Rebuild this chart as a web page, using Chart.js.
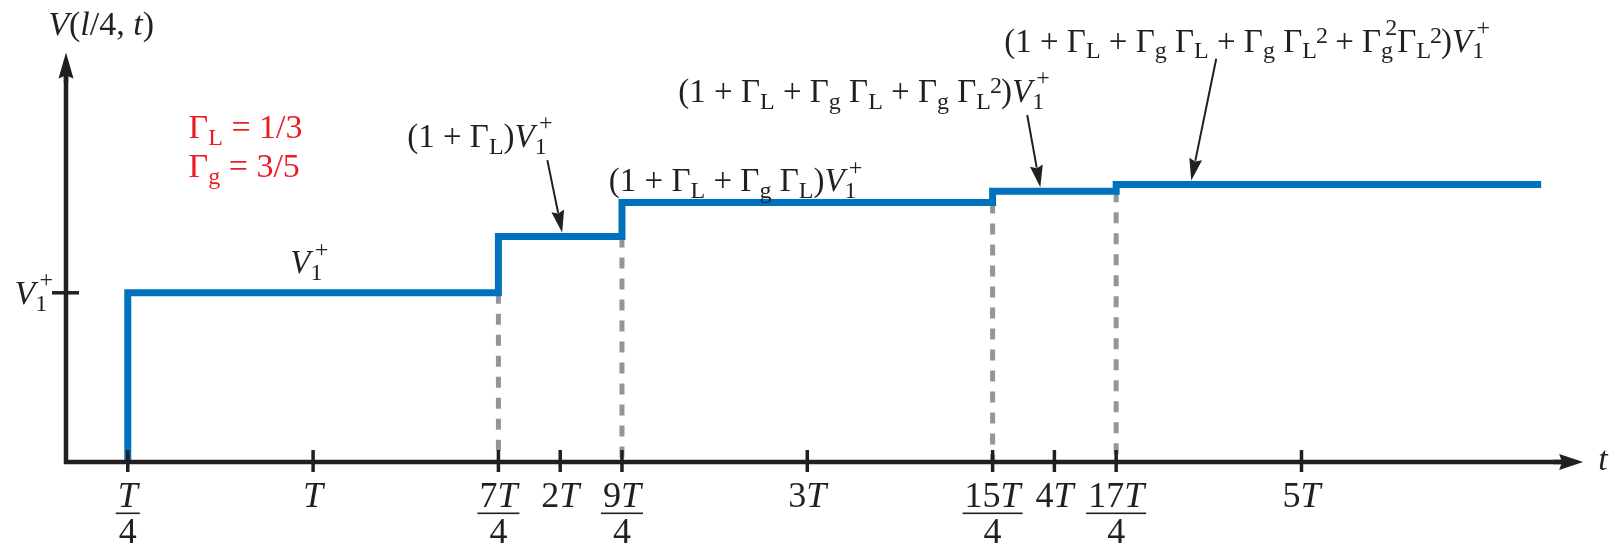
<!DOCTYPE html>
<html>
<head>
<meta charset="utf-8">
<title>V(l/4, t)</title>
<script src="https://cdn.jsdelivr.net/npm/chart.js@4.4.0/dist/chart.umd.min.js"></script>
<style>
  html, body { margin: 0; padding: 0; background: #fff; }
  #wrap { width: 1623px; height: 548px; }
</style>
</head>
<body>
<div id="wrap"><canvas id="stepChart" width="1623" height="548"></canvas></div>
<script>
// times in units of T, voltages in units of V1+
const stepTimes = [0.25, 1.75, 2.25, 3.75, 4.25];
const stepLevels = [1, 1.333, 1.533, 1.6, 1.64];
const endTime = 5.97;

const tickValues = [0.25, 1, 1.75, 2, 2.25, 3, 3.75, 4, 4.25, 5];
const tickLabels = [['T', '4'], 'T', ['7T', '4'], '2T', ['9T', '4'], '3T', ['15T', '4'], '4T', ['17T', '4'], '5T'];

const levelLabels = [
  'V_1~+',
  '(1 + Γ_L)V_1~+',
  '(1 + Γ_L + Γ_g Γ_L)V_1~+',
  '(1 + Γ_L + Γ_g Γ_L + Γ_g Γ_L^2)V_1~+',
  '(1 + Γ_L + Γ_g Γ_L + Γ_g Γ_L^2 + Γ_g~2Γ_L^2)V_1~+'
];
// left edge / baseline of each level label, in data units
const labelAnchors = [[0.908, 1.116], [1.381, 1.862], [2.197, 1.60], [2.478, 2.128], [3.797, 2.424]];
// arrows: label end -> point on the level
const arrowFrom = [[1.948, 1.784], [3.89, 2.051], [4.655, 2.383]];
const arrowTo = [[2.008, 1], [3.943, 3], [4.554, 4]]; // [t, level index]

const paramLines = ['Γ_L = 1/3', 'Γ_g = 3/5'];

const AXIS = '#231f20';
const SERIF = '"Liberation Serif", "Times New Roman", serif';
const ITALIC_CHARS = 'VTtl';

// build the staircase from the step times and levels
const stairs = [{ x: stepTimes[0], y: 0 }];
stepTimes.forEach((t, i) => {
  const next = i + 1 < stepTimes.length ? stepTimes[i + 1] : endTime;
  stairs.push({ x: t, y: stepLevels[i] }, { x: next, y: stepLevels[i] });
});

const datasets = [{
  data: stairs,
  showLine: true,
  borderColor: '#0071bc',
  borderWidth: 7,
  borderJoinStyle: 'miter',
  borderCapStyle: 'butt',
  pointRadius: 0
}];
for (let i = 1; i < stepTimes.length; i++) {
  datasets.push({
    data: [{ x: stepTimes[i], y: stepLevels[i - 1] }, { x: stepTimes[i], y: 0 }],
    showLine: true,
    borderColor: '#939598',
    borderWidth: 5,
    borderDash: [11, 10],
    borderCapStyle: 'butt',
    pointRadius: 0
  });
}

// tiny math-ish text: _x subscript, ^x superscript, ~x superscript stacked on last subscript
function drawRich(ctx, str, x, y, size, color, align) {
  const small = Math.round(size * 0.72);
  const parts = [];
  let cx = 0, lastSub = null, prevSub = false;
  for (let i = 0; i < str.length; i++) {
    const ch = str[i];
    if (ch === '_') {
      const c = str[++i];
      const font = small + 'px ' + SERIF;
      ctx.font = font;
      const w = ctx.measureText(c).width;
      parts.push({ c, font, x: cx, dy: size * 0.2 });
      lastSub = { x: cx, w };
      cx += w;
      prevSub = true;
      continue;
    }
    if (ch === '^' || ch === '~') {
      const c = str[++i];
      const font = small + 'px ' + SERIF;
      ctx.font = font;
      const w = ctx.measureText(c).width;
      if (ch === '~' && lastSub) {
        const px = lastSub.x + lastSub.w * 0.35;
        parts.push({ c, font, x: px, dy: -size * 0.5 });
        cx = Math.max(cx, px + w);
      } else {
        parts.push({ c, font, x: cx - (prevSub ? 1 : 0), dy: prevSub ? -size * 0.28 : -size * 0.45 });
        cx += w - (prevSub ? 2 : 0);
      }
      prevSub = false;
      continue;
    }
    const font = (ITALIC_CHARS.includes(ch) ? 'italic ' : '') + size + 'px ' + SERIF;
    ctx.font = font;
    parts.push({ c: ch, font, x: cx, dy: 0 });
    cx += ctx.measureText(ch).width;
    prevSub = false;
    lastSub = ch === ' ' ? lastSub : null;
  }
  let x0 = x;
  if (align === 'center') x0 = x - cx / 2;
  if (align === 'right') x0 = x - cx;
  ctx.fillStyle = color;
  ctx.textBaseline = 'alphabetic';
  ctx.textAlign = 'left';
  parts.forEach(p => {
    ctx.font = p.font;
    ctx.fillText(p.c, x0 + p.x, y + p.dy);
  });
  return cx;
}

function arrow(ctx, x1, y1, x2, y2, len, half, width) {
  const a = Math.atan2(y2 - y1, x2 - x1);
  const bx = x2 - len * Math.cos(a), by = y2 - len * Math.sin(a);
  ctx.beginPath();
  ctx.moveTo(x1, y1);
  ctx.lineTo(bx + Math.cos(a) * 2, by + Math.sin(a) * 2);
  ctx.lineWidth = width;
  ctx.stroke();
  ctx.beginPath();
  ctx.moveTo(x2, y2);
  ctx.lineTo(bx - half * Math.sin(a), by + half * Math.cos(a));
  ctx.lineTo(bx + len * 0.12 * Math.cos(a), by + len * 0.12 * Math.sin(a));
  ctx.lineTo(bx + half * Math.sin(a), by - half * Math.cos(a));
  ctx.closePath();
  ctx.fill();
}

const axesPlugin = {
  id: 'axesPlugin',
  afterDatasetsDraw(chart) {
    const { ctx, scales: { x, y } } = chart;
    const ox = x.getPixelForValue(0), oy = y.getPixelForValue(0);
    ctx.save();
    ctx.strokeStyle = AXIS;
    ctx.fillStyle = AXIS;
    ctx.lineCap = 'butt';

    // axes with arrow heads
    const xEnd = x.getPixelForValue(6.14), yEnd = y.getPixelForValue(2.42);
    ctx.beginPath();
    ctx.moveTo(ox - 2, oy);
    ctx.lineTo(xEnd - 20, oy);
    ctx.moveTo(ox, oy + 2);
    ctx.lineTo(ox, yEnd + 20);
    ctx.lineWidth = 4.5;
    ctx.stroke();
    arrow(ctx, xEnd - 30, oy, xEnd, oy, 24, 8, 4.5);
    arrow(ctx, ox, yEnd + 30, ox, yEnd, 26, 7.5, 4.5);

    // x ticks and labels
    ctx.lineWidth = 3.5;
    tickValues.forEach((v, i) => {
      const px = x.getPixelForValue(v);
      ctx.strokeStyle = AXIS;
      ctx.beginPath();
      ctx.moveTo(px, oy - 12);
      ctx.lineTo(px, oy + 10);
      ctx.stroke();
      const lab = tickLabels[i];
      if (Array.isArray(lab)) {
        const w = drawRich(ctx, lab[0], px, oy + 45, 36, AXIS, 'center');
        ctx.fillRect(px - w / 2 - 2, oy + 50.5, w + 4, 1.6);
        drawRich(ctx, lab[1], px, oy + 81, 36, AXIS, 'center');
      } else {
        drawRich(ctx, lab, px, oy + 45, 36, AXIS, 'center');
      }
    });

    // y tick at V1+
    const vy = y.getPixelForValue(stepLevels[0]);
    ctx.strokeStyle = AXIS;
    ctx.beginPath();
    ctx.moveTo(ox - 14, vy);
    ctx.lineTo(ox + 13, vy);
    ctx.stroke();
    drawRich(ctx, 'V_1~+', ox - 13, vy + 11, 34, AXIS, 'right');

    // axis titles
    drawRich(ctx, 'V(l/4, t)', x.getPixelForValue(-0.072), y.getPixelForValue(2.525), 34, AXIS);
    drawRich(ctx, 't', xEnd + 15, oy + 8, 34, AXIS);

    // reflection coefficients
    paramLines.forEach((s, i) => {
      drawRich(ctx, s, x.getPixelForValue(0.496), y.getPixelForValue(1.914 - i * 0.23), 34, '#ed1c24');
    });

    // level labels and pointers
    levelLabels.forEach((s, i) => {
      const [t, v] = labelAnchors[i];
      drawRich(ctx, s, x.getPixelForValue(t), y.getPixelForValue(v), 33, AXIS);
    });
    arrowFrom.forEach((f, i) => {
      const [t, k] = arrowTo[i];
      arrow(ctx, x.getPixelForValue(f[0]), y.getPixelForValue(f[1]),
        x.getPixelForValue(t), y.getPixelForValue(stepLevels[k]) - 4, 22, 6.5, 2);
    });
    ctx.restore();
  }
};

new Chart(document.getElementById('stepChart').getContext('2d'), {
  type: 'scatter',
  data: { datasets },
  options: {
    responsive: false,
    animation: false,
    layout: { padding: { left: 66, right: 25, top: 39, bottom: 86 } },
    plugins: { legend: { display: false }, tooltip: { enabled: false } },
    scales: {
      x: { type: 'linear', min: 0, max: 6.2, display: false },
      y: { type: 'linear', min: 0, max: 2.5, display: false }
    }
  },
  plugins: [axesPlugin]
});
</script>
</body>
</html>
